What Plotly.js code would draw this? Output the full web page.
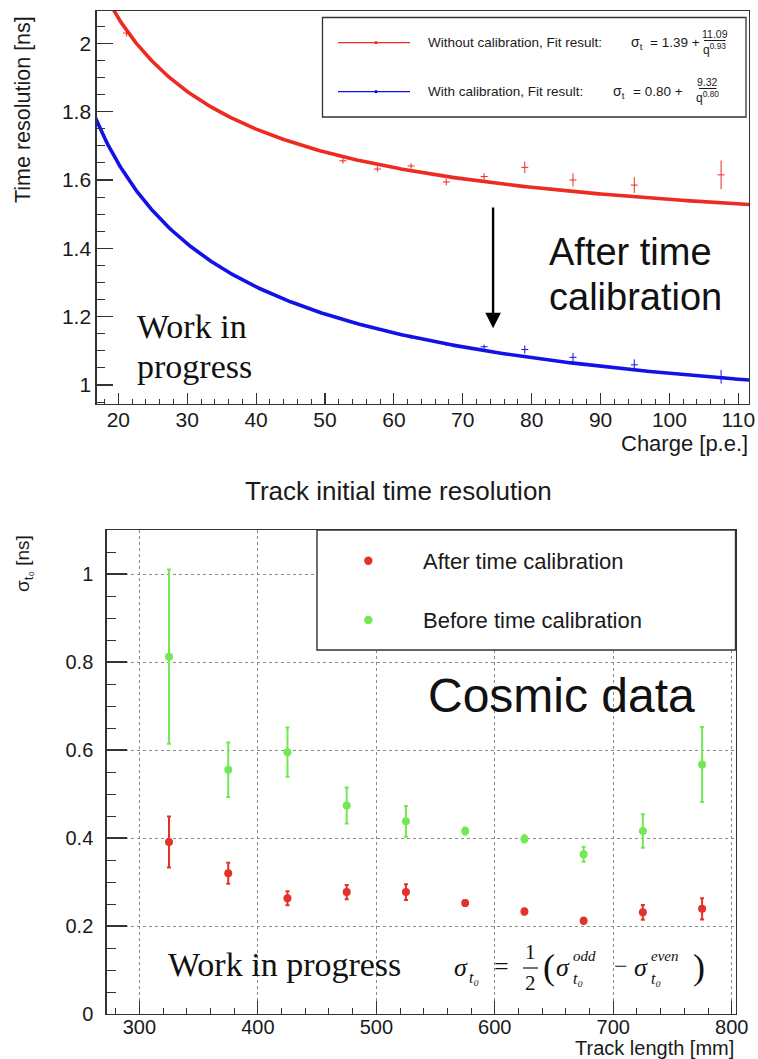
<!DOCTYPE html>
<html>
<head>
<meta charset="utf-8">
<script src="https://cdn.plot.ly/plotly-3.0.1.min.js"></script>
<style>
  html, body { margin: 0; padding: 0; background: #ffffff; }
  #chart { width: 758px; height: 1059px; }
</style>
</head>
<body>
<div id="chart"></div>
<script>
// ---------- Upper panel: time resolution vs. charge ----------
// Measured points without calibration
const chargeRaw = [21.2, 52.6, 57.6, 62.5, 67.6, 73.1, 79.0, 86.0, 94.9, 107.5];
const resolutionRaw = [2.03, 1.656, 1.632, 1.641, 1.594, 1.610, 1.637, 1.600, 1.585, 1.615];
const resolutionRawErr = [0.010, 0.008, 0.008, 0.008, 0.010, 0.010, 0.017, 0.019, 0.023, 0.042];
// Measured points with calibration
const chargeCal = [62.5, 67.6, 73.1, 79.0, 86.0, 94.9, 107.5];
const resolutionCal = [1.141, 1.120, 1.112, 1.104, 1.081, 1.059, 1.024];
const resolutionCalErr = [0.006, 0.006, 0.006, 0.012, 0.013, 0.016, 0.020];
// Fit parameters sigma_t = a + b / q^c, as quoted in the legend
const fitRaw = [1.39, 11.09, 0.93];
const fitCal = [0.80, 9.32, 0.80];
const fitLabels = ["1.39", "11.09", "0.93", "0.80", "9.32", "0.80"];

// ---------- Lower panel: track initial time resolution ----------
const trackLength = [325, 375, 425, 475, 525, 575, 625, 675, 725, 775];
const sigmaAfter = [0.391, 0.320, 0.263, 0.277, 0.277, 0.252, 0.233, 0.212, 0.231, 0.239];
const sigmaAfterErr = [0.058, 0.024, 0.016, 0.016, 0.018, 0.006, 0.007, 0.007, 0.017, 0.024];
const sigmaBefore = [0.812, 0.555, 0.595, 0.474, 0.438, 0.416, 0.398, 0.363, 0.416, 0.567];
const sigmaBeforeErr = [0.198, 0.062, 0.056, 0.041, 0.035, 0.008, 0.008, 0.017, 0.038, 0.085];

const topXTicks = [20, 30, 40, 50, 60, 70, 80, 90, 100, 110];
const topYTicks = [1, 1.2, 1.4, 1.6, 1.8, 2];
const botXTicks = [300, 400, 500, 600, 700, 800];
const botYTicks = [0, 0.2, 0.4, 0.6, 0.8, 1];

// ---------- drawing ----------
const W = 758, H = 1059;
const px = x => x / W;          // pixel -> paper x
const py = y => 1 - y / H;      // pixel -> paper y

const RED = '#ee2b20', BLUE = '#1212e8';
const RED2 = '#e2332b', GREEN = '#72e852';
const SANS = 'Liberation Sans, Arial, Helvetica, sans-serif';
const SERIF = 'Liberation Serif, Times New Roman, serif';
const INK = '#1a1a1a';

// evaluate the fit function on a fine charge grid
function fitCurve(p) {
  const xs = [], ys = [];
  for (let q = 16.5; q <= 112; q += 0.25) {
    xs.push(q);
    ys.push(p[0] + p[1] / Math.pow(q, p[2]));
  }
  return { xs, ys };
}
const cRaw = fitCurve(fitRaw), cCal = fitCurve(fitCal);

const traces = [
  { x: cRaw.xs, y: cRaw.ys, mode: 'lines', line: { color: RED, width: 3.6 },
    xaxis: 'x', yaxis: 'y', hoverinfo: 'skip' },
  { x: cCal.xs, y: cCal.ys, mode: 'lines', line: { color: BLUE, width: 3.6 },
    xaxis: 'x', yaxis: 'y', hoverinfo: 'skip' },
  { x: chargeRaw, y: resolutionRaw, mode: 'markers', xaxis: 'x', yaxis: 'y',
    marker: { symbol: 'line-ew', size: 5, line: { color: RED, width: 1 } },
    error_y: { type: 'data', array: resolutionRawErr, color: RED, thickness: 1, width: 0 } },
  { x: chargeCal, y: resolutionCal, mode: 'markers', xaxis: 'x', yaxis: 'y',
    marker: { symbol: 'line-ew', size: 5, line: { color: BLUE, width: 1 } },
    error_y: { type: 'data', array: resolutionCalErr, color: BLUE, thickness: 1, width: 0 } },
  { x: trackLength, y: sigmaBefore, mode: 'markers', xaxis: 'x2', yaxis: 'y2',
    marker: { symbol: 'circle', size: 8, color: GREEN },
    error_y: { type: 'data', array: sigmaBeforeErr, color: GREEN, thickness: 2, width: 2 } },
  { x: trackLength, y: sigmaAfter, mode: 'markers', xaxis: 'x2', yaxis: 'y2',
    marker: { symbol: 'circle', size: 8, color: RED2 },
    error_y: { type: 'data', array: sigmaAfterErr, color: RED2, thickness: 2, width: 2 } }
];

const frame = { showline: true, mirror: true, linecolor: '#333', linewidth: 1.4,
  ticks: 'inside', tickcolor: '#333', tickwidth: 1.2, zeroline: false };

const layout = {
  width: W, height: H,
  margin: { l: 0, r: 0, t: 0, b: 0 },
  paper_bgcolor: '#fff', plot_bgcolor: '#fff',
  showlegend: false,
  font: { family: SANS, color: INK },
  xaxis: Object.assign({}, frame, {
    domain: [px(96.7), px(749)], range: [16.86, 111.55],
    tickvals: topXTicks, ticklen: 11, showgrid: false,
    minor: { dtick: 2, ticks: 'inside', ticklen: 5.5, tickcolor: '#333', tickwidth: 1, showgrid: false },
    tickfont: { size: 21, color: INK }, ticklabelstandoff: -4, anchor: 'y'
  }),
  yaxis: Object.assign({}, frame, {
    domain: [py(404), py(11)], range: [0.9444, 2.0945],
    tickvals: topYTicks, ticklen: 16, showgrid: false,
    minor: { dtick: 0.05, ticks: 'inside', ticklen: 8, tickcolor: '#333', tickwidth: 1, showgrid: false },
    tickfont: { size: 21, color: INK }, ticklabelstandoff: 0, anchor: 'x'
  }),
  xaxis2: Object.assign({}, frame, {
    domain: [px(106.7), px(735.5)], range: [272.4, 803.2],
    tickvals: botXTicks, ticklen: 13,
    showgrid: true, griddash: 'dot', gridcolor: '#8a8a8a', gridwidth: 1,
    minor: { dtick: 20, ticks: 'inside', ticklen: 6.5, tickcolor: '#333', tickwidth: 1, showgrid: false },
    tickfont: { size: 20, color: INK }, ticklabelstandoff: -5, anchor: 'y2'
  }),
  yaxis2: Object.assign({}, frame, {
    domain: [py(1014), py(530)], range: [0, 1.1],
    tickvals: botYTicks, ticklen: 20,
    showgrid: true, griddash: 'dot', gridcolor: '#8a8a8a', gridwidth: 1,
    minor: { dtick: 0.05, ticks: 'inside', ticklen: 9, tickcolor: '#333', tickwidth: 1, showgrid: false },
    tickfont: { size: 20, color: INK }, ticklabelstandoff: 8, anchor: 'x2'
  }),
  shapes: [],
  annotations: []
};

const S = layout.shapes, A = layout.annotations;
function txt(text, x, y, size, opts) {
  A.push(Object.assign({ text: text, x: px(x), y: py(y), xref: 'paper', yref: 'paper',
    showarrow: false, xanchor: 'left', yanchor: 'middle',
    font: { family: SANS, size: size, color: INK } }, opts || {}));
}
function hline(x0, x1, y, color, width) {
  S.push({ type: 'line', xref: 'paper', yref: 'paper', x0: px(x0), x1: px(x1), y0: py(y), y1: py(y),
    line: { color: color, width: width }, layer: 'above' });
}
function dot(x, y, r, color) {
  S.push({ type: 'circle', xref: 'paper', yref: 'paper', x0: px(x - r), x1: px(x + r),
    y0: py(y + r), y1: py(y - r), fillcolor: color, line: { width: 0 }, layer: 'above' });
}

// ----- upper panel legend -----
S.push({ type: 'rect', xref: 'paper', yref: 'paper', x0: px(322.5), x1: px(746), y0: py(117), y1: py(17.5),
  fillcolor: '#fff', line: { color: '#333', width: 1.3 }, layer: 'above' });
hline(338, 410, 42.7, RED, 1.2); dot(376, 42.7, 1.6, RED);
hline(338, 410, 91.7, BLUE, 1.2); dot(376, 91.7, 1.6, BLUE);
txt('Without calibration, Fit result:', 426, 42.7, 13.5);
txt('σ<sub>t</sub>', 629, 43, 14);
txt('= ' + fitLabels[0] + ' +', 702, 42.7, 13.5, { xanchor: 'right' });
txt(fitLabels[1], 714.5, 34.5, 10.5, { xanchor: 'center' });
hline(704, 725.5, 40.5, INK, 1);
txt('q<sup>' + fitLabels[2] + '</sup>', 714.5, 48.5, 12, { xanchor: 'center' });
txt('With calibration, Fit result:', 426, 91.7, 13.5);
txt('σ<sub>t</sub>', 611, 92, 14);
txt('= ' + fitLabels[3] + ' +', 685, 91.7, 13.5, { xanchor: 'right' });
txt(fitLabels[4], 707.5, 82.5, 10.5, { xanchor: 'center' });
hline(699, 716.5, 88.5, INK, 1);
txt('q<sup>' + fitLabels[5] + '</sup>', 707.5, 96.5, 12, { xanchor: 'center' });

// ----- upper panel texts -----
txt('Time resolution [ns]', 23, 110, 21.5, { xanchor: 'center', textangle: -90 });
txt('Charge [p.e.]', 750, 443, 22, { xanchor: 'right' });
txt('Work in', 135, 326, 34, { font: { family: SERIF, size: 34, color: '#111' } });
txt('progress', 135, 366, 34, { font: { family: SERIF, size: 34, color: '#111' } });
txt('After time', 547, 252, 38, { font: { family: SANS, size: 38, color: '#111' } });
txt('calibration', 547, 297, 38, { font: { family: SANS, size: 38, color: '#111' } });
A.push({ text: '', xref: 'x', yref: 'y', axref: 'x', ayref: 'y',
  x: 74.4, y: 1.166, ax: 74.4, ay: 1.524, showarrow: true,
  arrowhead: 2, arrowsize: 1.3, arrowwidth: 2.4, arrowcolor: '#000', standoff: 0 });

// ----- lower panel -----
txt('Track initial time resolution', 398, 491, 26, { xanchor: 'center' });
txt('σ<sub>t₀</sub> [ns]', 24, 564, 19, { xanchor: 'center', textangle: -90 });
txt('Track length [mm]', 735.5, 1047.5, 20, { xanchor: 'right' });

S.push({ type: 'rect', xref: 'paper', yref: 'paper', x0: px(317), x1: px(735.5), y0: py(650), y1: py(530),
  fillcolor: '#fff', line: { color: '#333', width: 1.4 }, layer: 'above' });
dot(368.3, 560.7, 4.2, RED2);
dot(368.3, 620, 4.2, GREEN);
txt('After time calibration', 420.5, 561, 22);
txt('Before time calibration', 420.5, 620, 22);
txt('Cosmic data', 426, 695, 48, { font: { family: SANS, size: 48, color: '#111' } });
txt('Work in progress', 166, 964, 34, { font: { family: SERIF, size: 34, color: '#111' } });

// sigma_t0 = 1/2 (sigma_t0^odd - sigma_t0^even)
const F = (size, italic) => ({ font: { family: SERIF, size: size, color: '#111', style: italic ? 'italic' : 'normal' } });
txt('σ', 452, 967, 26, F(26, true));
txt('t₀', 467, 977, 16, F(16, true));
txt('=', 492, 966, 26, F(26, false));
txt('1', 530.5, 952, 21, Object.assign({ xanchor: 'center' }, F(21, false)));
hline(523, 538, 968, '#111', 1.2);
txt('2', 530.5, 983, 21, Object.assign({ xanchor: 'center' }, F(21, false)));
txt('(', 541, 967, 36, F(36, false));
txt('σ', 554, 967, 26, F(26, true));
txt('odd', 571, 956, 15, F(15, true));
txt('t₀', 571, 978, 16, F(16, true));
txt('−', 612, 966, 24, F(24, false));
txt('σ', 632, 967, 26, F(26, true));
txt('even', 649, 956, 15, F(15, true));
txt('t₀', 649, 978, 16, F(16, true));
txt(')', 691, 967, 36, F(36, false));

Plotly.newPlot('chart', traces, layout, { displayModeBar: false, staticPlot: true });
</script>
</body>
</html>
